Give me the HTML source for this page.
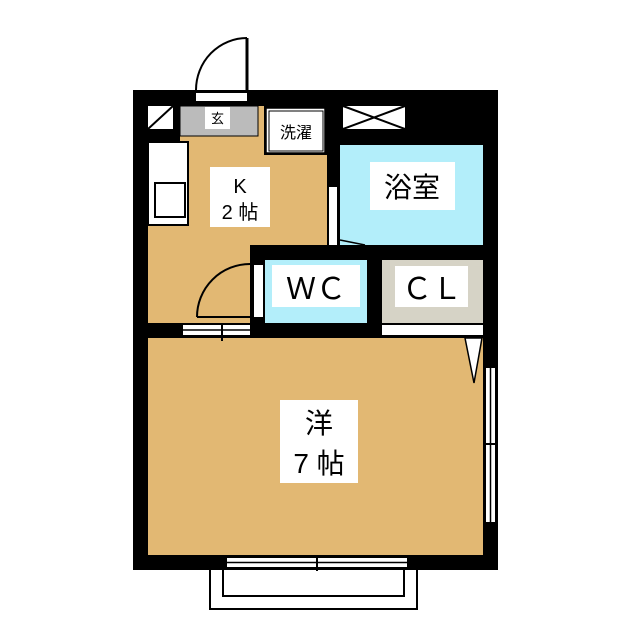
<!DOCTYPE html>
<html><head><meta charset="utf-8"><style>
html,body{margin:0;padding:0;background:#fff}
svg{display:block}
text{font-family:"Liberation Sans","Noto Sans CJK JP",sans-serif;fill:#000}
</style></head><body>
<svg width="640" height="640" viewBox="0 0 640 640" xmlns="http://www.w3.org/2000/svg">
<rect x="133" y="90" width="365" height="480" fill="#000"/>
<rect x="148" y="106" width="179" height="217" fill="#e2b873"/>
<rect x="250" y="245" width="77" height="15" fill="#000"/>
<rect x="250" y="245" width="15" height="78" fill="#000"/>
<rect x="148" y="106" width="25" height="23" fill="#fff"/>
<line x1="148" y1="129" x2="173" y2="106" stroke="#000" stroke-width="2"/>
<rect x="173" y="106" width="7" height="30" fill="#000"/>
<rect x="148" y="129" width="32" height="13" fill="#000"/>
<rect x="180" y="106" width="78" height="30" fill="#bbbbbb" stroke="#000" stroke-width="1"/>
<rect x="205" y="107" width="25" height="22" fill="#fff"/>
<text x="217.5" y="123" font-size="13" text-anchor="middle">玄</text>
<rect x="196" y="93" width="51" height="8" fill="#fff"/>
<path d="M196 90 A51 52 0 0 1 247 38" fill="none" stroke="#000" stroke-width="2"/>
<line x1="247" y1="38" x2="247" y2="90" stroke="#000" stroke-width="3"/>
<rect x="264" y="106" width="63" height="49" fill="#000"/>
<rect x="266" y="108" width="59" height="45" fill="#fff" stroke="#000" stroke-width="1.5"/>
<rect x="269" y="111" width="54" height="40" fill="#fff" stroke="#000" stroke-width="1"/>
<text x="296" y="138" font-size="16" text-anchor="middle">洗濯</text>
<rect x="343" y="106" width="62" height="23" fill="#fff"/>
<path d="M343 106 L405 129 M405 106 L343 129" stroke="#000" stroke-width="2"/>
<rect x="148" y="142" width="40" height="83" fill="#fff" stroke="#000" stroke-width="2"/>
<rect x="155" y="183" width="30" height="34" fill="#fff" stroke="#000" stroke-width="2"/>
<rect x="210" y="167" width="60" height="60" fill="#fff"/>
<text x="240" y="193" font-size="20" text-anchor="middle">K</text>
<text x="240" y="219" font-size="20" text-anchor="middle">2 帖</text>
<rect x="340" y="145" width="143" height="100" fill="#b3eefa"/>
<rect x="370" y="162" width="85" height="48" fill="#fff"/>
<text x="412" y="197" font-size="28" text-anchor="middle">浴室</text>
<rect x="329" y="187" width="8" height="58" fill="#fff"/>
<line x1="340" y1="240" x2="365" y2="245" stroke="#000" stroke-width="1.5"/>
<rect x="265" y="260" width="102" height="63" fill="#b3eefa"/>
<rect x="272" y="265" width="88" height="42" fill="#fff"/>
<text x="316" y="299" font-size="30" text-anchor="middle">ＷＣ</text>
<rect x="254" y="265" width="9" height="52" fill="#fff"/>
<rect x="382" y="260" width="101" height="63" fill="#d6d3c6"/>
<rect x="395" y="266" width="73" height="41" fill="#fff"/>
<text x="432" y="299" font-size="30" text-anchor="middle">ＣＬ</text>
<rect x="382" y="325" width="101" height="10" fill="#fff"/>
<path d="M197 317 A53 53 0 0 1 250 264" fill="none" stroke="#000" stroke-width="2"/>
<line x1="197" y1="317" x2="250" y2="317" stroke="#000" stroke-width="2"/>
<rect x="148" y="338" width="335" height="217" fill="#e2b873"/>
<rect x="280" y="400" width="78" height="83" fill="#fff"/>
<text x="319" y="433" font-size="28" text-anchor="middle">洋</text>
<text x="319" y="473" font-size="28" text-anchor="middle">7 帖</text>
<rect x="183" y="325" width="67" height="10" fill="#fff"/>
<line x1="183" y1="330" x2="250" y2="330" stroke="#000" stroke-width="1.5"/>
<line x1="222" y1="323" x2="222" y2="341" stroke="#000" stroke-width="2"/>
<path d="M465 338 L482 338 L474 383 Z" fill="#fff" stroke="#000" stroke-width="1.5"/>
<rect x="486" y="368" width="9" height="154" fill="#fff"/>
<line x1="490.5" y1="368" x2="490.5" y2="522" stroke="#000" stroke-width="1.5"/>
<line x1="483" y1="444" x2="498" y2="444" stroke="#000" stroke-width="2"/>
<rect x="227" y="558" width="180" height="9" fill="#fff"/>
<line x1="227" y1="562.5" x2="407" y2="562.5" stroke="#000" stroke-width="1.5"/>
<line x1="317" y1="555" x2="317" y2="571" stroke="#000" stroke-width="2"/>
<path d="M210 570 L210 609 L417 609 L417 570" fill="none" stroke="#000" stroke-width="2"/>
<path d="M223 570 L223 596 L404 596 L404 570" fill="none" stroke="#000" stroke-width="2"/>
</svg>
</body></html>
